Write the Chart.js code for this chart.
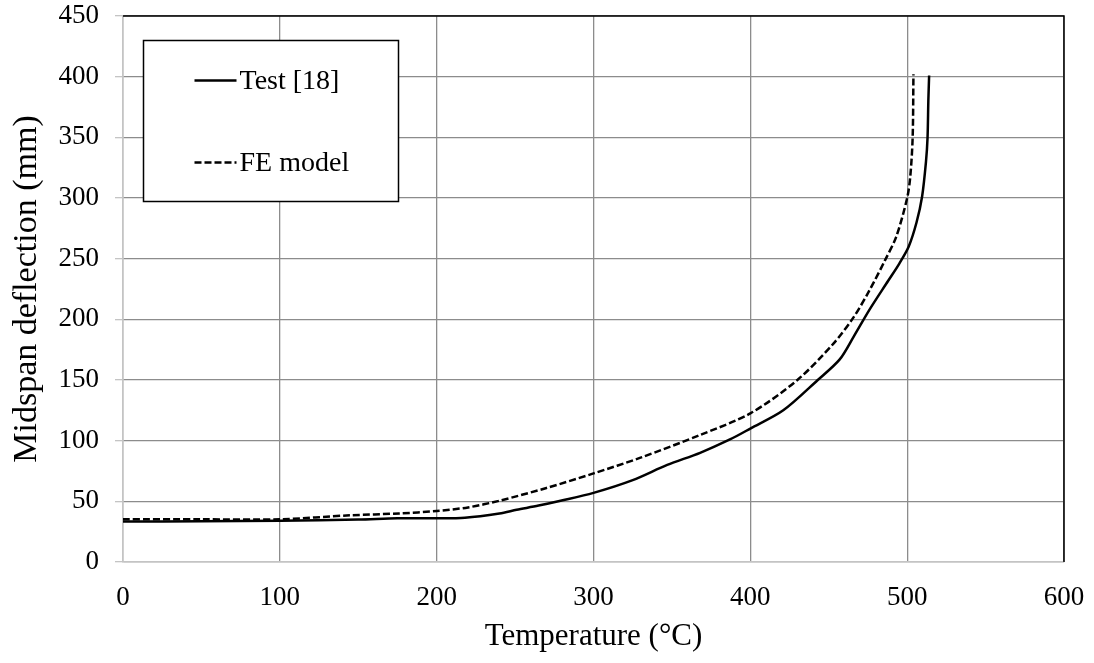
<!DOCTYPE html>
<html>
<head>
<meta charset="utf-8">
<script src="https://cdn.jsdelivr.net/npm/chart.js@4"></script>
<style>
  html, body { margin: 0; padding: 0; background: #fff; }
  #wrap { width: 1094px; height: 663px; }
</style>
</head>
<body>
<div id="wrap"><canvas id="c" width="1094" height="663"></canvas></div>
<script>
// ---- data ----
const testLabel = 'Test [18]';
const testTemp = [0, 50, 100, 150, 175, 200, 218, 240, 251, 265, 279, 300, 325, 347, 368, 387, 400, 421, 443, 457, 466, 476, 488, 495, 501, 506, 509.5, 512, 513, 513.5, 514];
const testDefl = [33.3, 33.5, 34, 35, 36, 36, 36.5, 40, 43, 46.5, 50.5, 57, 67.5, 80, 90, 101, 110, 125, 150, 167, 186, 208, 232, 246, 260, 280, 301, 330, 350, 380, 401];

const feLabel = 'FE model';
const feTemp = [0, 50, 100, 145, 176, 200, 220, 240, 270, 300, 330, 368, 400, 430, 453, 466, 476, 486, 493, 500, 502, 503.5, 504];
const feDefl = [35.2, 35.2, 35.2, 38.5, 40, 42, 45, 50.5, 61, 73, 86, 104.7, 122.5, 150, 180, 202, 224, 249, 268, 300, 318, 350, 402];

const xTicks = [0, 100, 200, 300, 400, 500, 600];
const yTicks = [0, 50, 100, 150, 200, 250, 300, 350, 400, 450];
const xTitle = 'Temperature (°C)';
const yTitle = 'Midspan deflection (mm)';

const FONT = '"Liberation Serif", "Times New Roman", serif';

const toPts = (xs, ys) => xs.map((x, i) => ({ x: x, y: ys[i] }));

const frameAndLegend = {
  id: 'frameAndLegend',
  beforeDatasetsDraw(chart) {
    const { ctx, chartArea: a } = chart;
    ctx.save();
    ctx.strokeStyle = '#000';
    ctx.lineWidth = 1.5;
    ctx.beginPath();
    ctx.moveTo(a.left, a.top);
    ctx.lineTo(a.right, a.top);
    ctx.lineTo(a.right, a.bottom);
    ctx.stroke();
    ctx.restore();
  },
  afterDatasetsDraw(chart) {
    const { ctx, chartArea: a } = chart;
    const bx = a.left + 20.5, by = a.top + 24.5, bw = 255, bh = 161;
    ctx.save();
    ctx.fillStyle = '#fff';
    ctx.fillRect(bx, by, bw, bh);
    ctx.strokeStyle = '#000';
    ctx.lineWidth = 1.5;
    ctx.strokeRect(bx, by, bw, bh);
    const rows = [
      { ds: chart.data.datasets[0], y: by + 40 },
      { ds: chart.data.datasets[1], y: by + 122 }
    ];
    ctx.font = '28px ' + FONT;
    ctx.textBaseline = 'middle';
    ctx.textAlign = 'left';
    rows.forEach(r => {
      ctx.strokeStyle = '#000';
      ctx.lineWidth = 2.5;
      ctx.setLineDash(r.ds.borderDash || []);
      ctx.beginPath();
      ctx.moveTo(bx + 51, r.y);
      ctx.lineTo(bx + 93, r.y);
      ctx.stroke();
      ctx.setLineDash([]);
      ctx.fillStyle = '#000';
      ctx.fillText(r.ds.label, bx + 96, r.y + 1);
    });
    ctx.restore();
  }
};

new Chart(document.getElementById('c'), {
  type: 'line',
  data: {
    datasets: [
      {
        label: testLabel,
        data: toPts(testTemp, testDefl),
        borderColor: '#000',
        borderWidth: 2.5,
        pointRadius: 0,
        tension: 0.3,
        fill: false
      },
      {
        label: feLabel,
        data: toPts(feTemp, feDefl),
        borderColor: '#000',
        borderWidth: 2.5,
        borderDash: [7, 3],
        pointRadius: 0,
        tension: 0.3,
        fill: false
      }
    ]
  },
  options: {
    responsive: false,
    animation: false,
    devicePixelRatio: 1,
    layout: { padding: { top: 16, right: 30, left: 0, bottom: 0 } },
    plugins: {
      legend: { display: false },
      tooltip: { enabled: false }
    },
    scales: {
      x: {
        type: 'linear',
        min: 0,
        max: 600,
        afterBuildTicks(s) { s.ticks = xTicks.map(v => ({ value: v })); },
        afterFit(s) { s.height = 101; s.paddingLeft = 0; s.paddingRight = 0; },
        grid: { color: '#8c8c8c', lineWidth: 1.3, drawTicks: false },
        border: { color: '#c4c4c4', width: 1.5 },
        ticks: { color: '#000', font: { family: FONT, size: 27 }, padding: 20, maxRotation: 0 },
        title: { display: true, text: xTitle, color: '#000', font: { family: FONT, size: 31 }, padding: { top: 0, bottom: 8 } }
      },
      y: {
        type: 'linear',
        min: 0,
        max: 450,
        afterBuildTicks(s) { s.ticks = yTicks.map(v => ({ value: v })); },
        afterFit(s) { s.width = 123; s.paddingTop = 0; s.paddingBottom = 0; },
        grid: { color: '#8c8c8c', lineWidth: 1.3, tickLength: 8, tickColor: '#c4c4c4' },
        border: { color: '#c4c4c4', width: 1.5 },
        ticks: { color: '#000', font: { family: FONT, size: 27 }, padding: 16 },
        title: { display: true, text: yTitle, color: '#000', font: { family: FONT, size: 34 }, padding: { top: 7, bottom: 0 } }
      }
    }
  },
  plugins: [frameAndLegend]
});
</script>
</body>
</html>
